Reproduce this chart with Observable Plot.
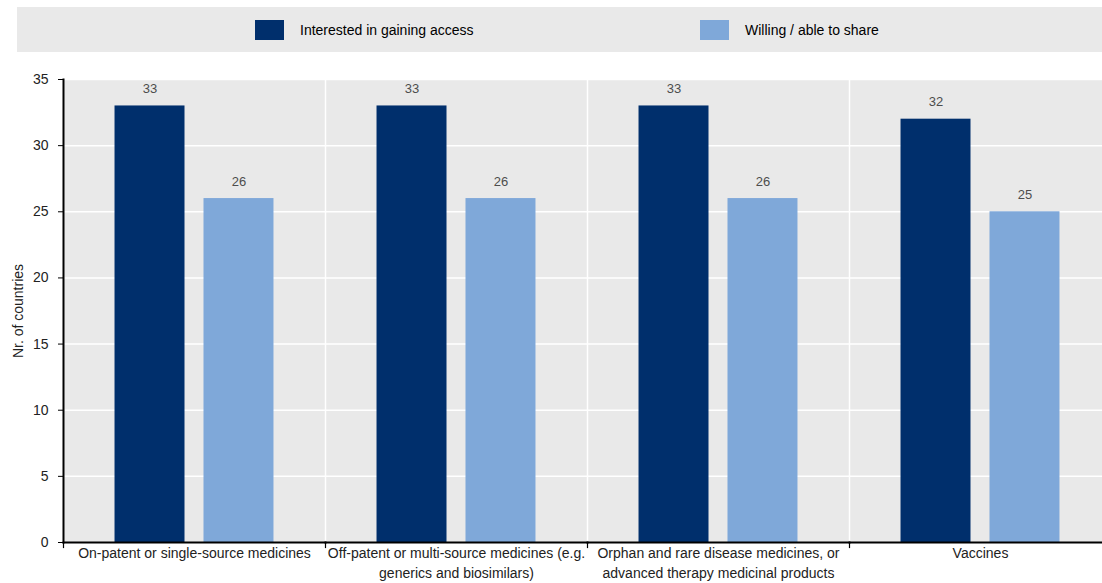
<!DOCTYPE html>
<html>
<head>
<meta charset="utf-8">
<script src="https://cdn.jsdelivr.net/npm/d3@7"></script>
<script src="https://cdn.jsdelivr.net/npm/@observablehq/plot@0.6"></script>
<style>
  html, body { margin: 0; padding: 0; background: #fff; overflow: hidden; }
  body { width: 1102px; height: 583px; font-family: "Liberation Sans", Arial, sans-serif; }
  .legend {
    position: absolute; left: 17px; top: 7px; width: 1100px; height: 45px;
    background: #e9e9e9; font-size: 14px; color: #000;
  }
  .legend .item { position: absolute; top: 13px; display: flex; align-items: center; }
  .legend .swatch { width: 29px; height: 20px; margin-right: 16px; }
  #chart { position: absolute; left: 0; top: 60px; width: 1111px; }
  #chart svg { max-width: none !important; }
</style>
</head>
<body>
<div class="legend" id="legend"></div>
<div id="chart"></div>
<script>
// Product categories along the x axis
const categories = [
  "On-patent or single-source medicines",
  "Off-patent or multi-source medicines (e.g. generics and biosimilars)",
  "Orphan and rare disease medicines, or advanced therapy medicinal products",
  "Vaccines"
];
// Axis labels for the categories, wrapped onto lines
const categoryLabels = [
  "On-patent or single-source medicines",
  "Off-patent or multi-source medicines (e.g.\ngenerics and biosimilars)",
  "Orphan and rare disease medicines, or\nadvanced therapy medicinal products",
  "Vaccines"
];
const seriesNames = ["Interested in gaining access", "Willing / able to share"];
const interested = [33, 33, 33, 32];
const willing = [26, 26, 26, 25];
const seriesColors = ["#002f6c", "#7fa8d9"];
const yTicks = [0, 5, 10, 15, 20, 25, 30, 35];

const rows = categories.flatMap((c, i) => [
  {category: c, series: seriesNames[0], value: interested[i]},
  {category: c, series: seriesNames[1], value: willing[i]}
]);

// Legend
const legend = document.getElementById("legend");
const legendLeft = [238, 683];
seriesNames.forEach((name, i) => {
  const item = document.createElement("div");
  item.className = "item";
  item.style.left = legendLeft[i] + "px";
  item.innerHTML = `<span class="swatch" style="background:${seriesColors[i]}"></span><span>${name}</span>`;
  legend.appendChild(item);
});

const labelOf = new Map(categories.map((c, i) => [c, categoryLabels[i]]));
const plotH = 463;

const chart = Plot.plot({
  width: 1111,
  height: 523,
  marginLeft: 62,
  marginRight: 0,
  marginTop: 19,
  marginBottom: 41,
  style: {fontFamily: "\"Liberation Sans\", Arial, sans-serif", fontSize: "14px", background: "transparent"},
  fx: {domain: categories, padding: 0, label: null},
  x: {domain: seriesNames, paddingInner: 0.2135, paddingOuter: 0.579, round: false, axis: null},
  y: {domain: [0, 35], label: null},
  color: {domain: seriesNames, range: seriesColors},
  marks: [
    Plot.frame({fill: "#e9e9e9"}),
    Plot.gridY(yTicks.slice(1), {stroke: "#fff", strokeOpacity: 1, strokeWidth: 1.5}),
    Plot.frame({anchor: "left", stroke: "#fff", strokeWidth: 1.5}),
    Plot.barY(rows, {fx: "category", x: "series", y: "value", fill: "series"}),
    Plot.text(rows, {fx: "category", x: "series", y: "value", text: d => String(d.value), dy: -17, fill: "#4d4d4d", fontSize: 13}),
    Plot.frame({anchor: "bottom", stroke: "#000", strokeWidth: 2}),
    Plot.frame({anchor: "left", stroke: "#000", strokeWidth: 1.2, insetTop: plotH, insetBottom: -5}),
    Plot.frame({anchor: "left", stroke: "#000", strokeWidth: 2, facetAnchor: "left"}),
    Plot.axisFx({anchor: "bottom", tickSize: 0, tickPadding: 2, lineAnchor: "top", lineHeight: 1.4, tickFormat: c => labelOf.get(c), fill: "#222", fontSize: 14, label: null, textOverflow: null}),
    Plot.axisY(yTicks, {tickSize: 5, tickPadding: 10, fontSize: 14, fill: "#222", stroke: "#000", strokeOpacity: 1, label: "Nr. of countries", labelAnchor: "center", labelArrow: "none", labelOffset: 50})
  ]
});
document.getElementById("chart").appendChild(chart);
</script>
</body>
</html>
